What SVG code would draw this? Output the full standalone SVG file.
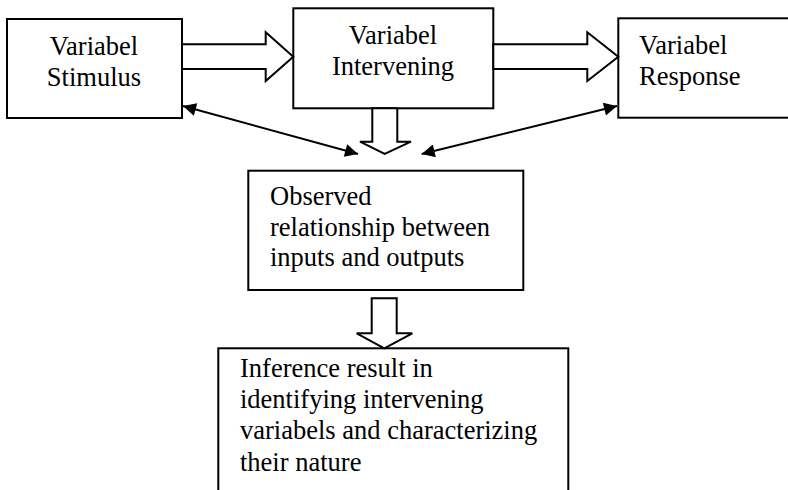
<svg xmlns="http://www.w3.org/2000/svg" width="788" height="490" viewBox="0 0 788 490">
<style>
.box{fill:#fff;stroke:#000;stroke-width:2}
.blk{fill:#fff;stroke:#000;stroke-width:2;stroke-linejoin:miter}
.ln{fill:none;stroke:#000;stroke-width:2}
.t{font-family:'Liberation Serif','Times New Roman',Times,serif;font-size:26.5px;fill:#000}
.c{text-anchor:middle}
</style>
<defs>
<marker id="ah" viewBox="0 0 10 10" refX="10" refY="5" markerWidth="8" markerHeight="6.5" orient="auto-start-reverse" markerUnits="strokeWidth">
<path d="M0,0 L10,5 L0,10 z" fill="#000"/>
</marker>
</defs>
<rect width="788" height="490" fill="#fff"/>
<g id="stimulus">
<rect class="box" x="7" y="19" width="175" height="99"/>
<text class="t c" font-family="Liberation Serif, serif" x="94" y="55">Variabel</text>
<text class="t c" font-family="Liberation Serif, serif" x="94" y="86">Stimulus</text>
</g>
<g id="intervening">
<rect class="box" x="293.3" y="8.3" width="200" height="100"/>
<text class="t c" font-family="Liberation Serif, serif" x="393" y="44">Variabel</text>
<text class="t c" font-family="Liberation Serif, serif" x="393" y="74.5">Intervening</text>
</g>
<g id="response">
<rect class="box" x="618.3" y="18.3" width="180" height="99.4"/>
<text class="t" font-family="Liberation Serif, serif" x="639" y="54">Variabel</text>
<text class="t" font-family="Liberation Serif, serif" x="639" y="85">Response</text>
</g>
<g id="observed">
<rect class="box" x="248.3" y="170.7" width="275" height="119.3"/>
<text class="t" font-family="Liberation Serif, serif" x="270" y="205">Observed</text>
<text class="t" font-family="Liberation Serif, serif" x="270" y="236">relationship between</text>
<text class="t" font-family="Liberation Serif, serif" x="270" y="266">inputs and outputs</text>
</g>
<g id="inference">
<rect class="box" x="218.3" y="348.3" width="350" height="160"/>
<text class="t" font-family="Liberation Serif, serif" x="240" y="377">Inference result in</text>
<text class="t" font-family="Liberation Serif, serif" x="240" y="408">identifying intervening</text>
<text class="t" font-family="Liberation Serif, serif" x="240" y="439">variabels and characterizing</text>
<text class="t" font-family="Liberation Serif, serif" x="240" y="470.5">their nature</text>
</g>
<g id="connectors">
<polygon class="blk" points="182,44.3 265.7,44.3 265.7,32.3 293.3,56.7 265.7,81 265.7,69 182,69"/>
<polygon class="blk" points="493.3,44.3 587.3,44.3 587.3,32.3 618.3,56.7 587.3,81 587.3,69 493.3,69"/>
<polygon class="blk" points="372.3,108.3 372.3,141.7 360,141.7 384.7,154 411,141.7 397.3,141.7 397.3,108.3"/>
<polygon class="blk" points="371.7,298.3 371.7,333.3 356.7,333.3 384.3,348.3 412.3,333.3 396.7,333.3 396.7,298.3"/>
<line class="ln" x1="183" y1="106" x2="358" y2="154" marker-start="url(#ah)" marker-end="url(#ah)"/>
<line class="ln" x1="421.7" y1="154" x2="617" y2="106" marker-start="url(#ah)" marker-end="url(#ah)"/>
</g>
</svg>
